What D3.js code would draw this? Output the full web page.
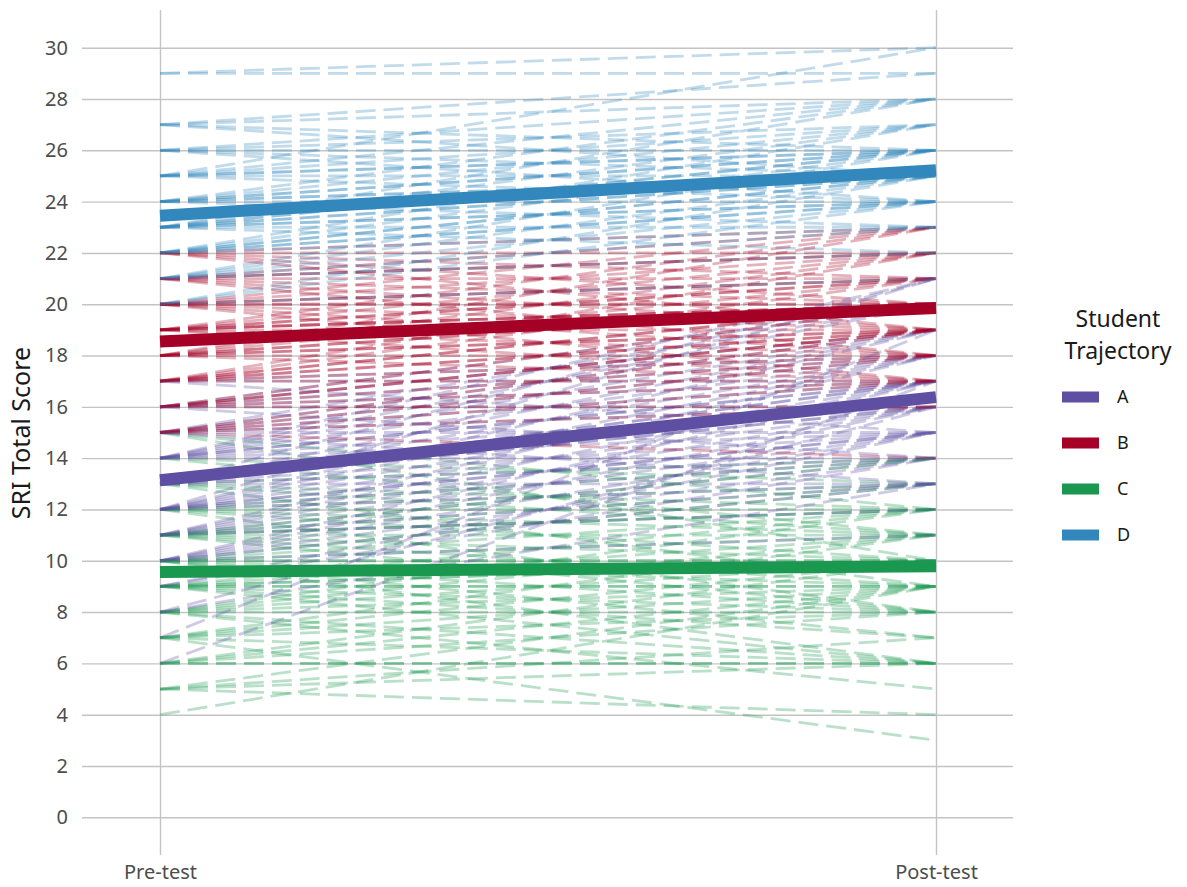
<!DOCTYPE html>
<html>
<head>
<meta charset="utf-8">
<script src="https://cdn.jsdelivr.net/npm/d3@7"></script>
<style>
  html, body { margin: 0; padding: 0; background: #ffffff; }
  svg { display: block; }
  text { font-family: "Noto Sans", "Open Sans", sans-serif; }
</style>
</head>
<body>
<svg id="chart" width="1187" height="887"></svg>
<script>
// ---------------- DATA ----------------
const timepoints = ["Pre-test", "Post-test"];
const groups = ["A", "B", "C", "D"];
const groupColors = ["#5e4fa2", "#a50026", "#1a9850", "#3288bd"];
const yTicks = [0, 2, 4, 6, 8, 10, 12, 14, 16, 18, 20, 22, 24, 26, 28, 30];

// group mean trajectories (pre, post)
const meanPre  = [13.14, 18.55, 9.56, 23.45];
const meanPost = [16.38, 19.85, 9.79, 25.22];

// individual students, group A
const preA  = [17,17, 16,16,16,16,16, 15,15,15,15,15,15, 14,14,14,14,14,14,14,14,
               13,13,13,13,13,13,13,13,13, 12,12,12,12,12,12,12,12, 11,11,11,11,11,11,11,
               10,10,10,10,10,10, 9,9,8,8,7,6, 17,16,15,14,13,12];
const postA = [18,17, 20,19,18,17,16, 20,19,18,17,16,15, 20,19,18,17,17,16,15,14,
               19,18,17,17,16,16,15,14,13, 19,18,17,16,15,15,14,13, 18,17,16,15,14,13,12,
               17,16,15,14,13,11, 15,14,16,13,19,17, 15,14,13,21,21,21];

// group B
const preB  = [22,22,22,22, 21,21,21,21,21,21, 20,20,20,20,20,20,20,20,
               19,19,19,19,19,19,19,19,19, 18,18,18,18,18,18,18,18,
               17,17,17,17,17,17,17, 16,16,16,16,16,16, 15,15,15,15,15,
               22,21,20,19,18,17];
const postB = [23,22,21,20, 23,22,22,21,20,19, 23,22,21,21,20,20,19,18,
               22,21,21,20,20,20,19,18,17, 22,21,20,20,19,19,18,17,
               21,20,20,19,19,18,17, 20,19,19,18,17,16, 19,18,17,16,14,
               19,18,17,23,23,22];

// group C
const preC  = [15,15,14,14, 13,13,13,13, 12,12,12,12,12,12, 11,11,11,11,11,11,11,
               10,10,10,10,10,10,10,10, 9,9,9,9,9,9,9,9, 8,8,8,8,8,8,8,
               7,7,7,7,7,7, 6,6,6,6,6, 5,5,5,5,4, 10,9,11];
const postC = [12,10,13,11, 14,12,11,9, 14,13,12,11,10,8, 13,12,12,11,10,9,8,
               13,12,11,10,10,9,8,6, 12,11,10,10,9,9,8,7, 12,11,10,9,8,6,5,
               11,10,9,8,6,3, 10,9,8,6,6, 9,7,6,4,9, 7,6,14];

// group D
const preD  = [29,29,27,27,27, 26,26,26,26, 25,25,25,25,25,25,
               24,24,24,24,24,24,24,24, 23,23,23,23,23,23,23,23,23,23,
               22,22,22,22,22,22,22, 21,21,21,21,21, 20,20,20, 27,26,25];
const postD = [30,29,28,29,25, 28,27,25,24, 30,28,27,26,25,24,
               28,27,26,26,25,25,24,23, 28,27,26,26,25,25,24,24,23,22,
               27,26,25,25,24,24,23, 26,25,24,23,22, 25,24,21, 26,26,26];

const studentPre  = [preA, preB, preC, preD];
const studentPost = [postA, postB, postC, postD];

// ---------------- CHART ----------------
const svg = d3.select("#chart");

const panelLeft = 82, panelRight = 1013, panelTop = 10, panelBottom = 855;

const y = d3.scaleLinear().domain([0, 30]).range([817.3, 47.7]);
const x = d3.scalePoint().domain(timepoints).range([160, 936]);
const color = d3.scaleOrdinal().domain(groups).range(groupColors);

// horizontal grid + y labels
const yAxis = d3.axisLeft(y)
  .tickValues(yTicks)
  .tickSize(-(panelRight - panelLeft))
  .tickPadding(14)
  .tickFormat(d3.format("d"));
const gy = svg.append("g")
  .attr("transform", `translate(${panelLeft},0)`)
  .call(yAxis);
gy.select(".domain").remove();
gy.selectAll(".tick line").attr("stroke", "#c4c4c4").attr("stroke-width", 1.4);
gy.selectAll(".tick text")
  .attr("fill", "#4d4d4d")
  .style("font-size", "20px")
  .style("font-family", "'Noto Sans', sans-serif");

// vertical grid + x labels
const xAxis = d3.axisBottom(x)
  .tickSize(-(panelBottom - panelTop))
  .tickPadding(10);
const gx = svg.append("g")
  .attr("transform", `translate(0,${panelBottom})`)
  .call(xAxis);
gx.select(".domain").remove();
gx.selectAll(".tick line").attr("stroke", "#c4c4c4").attr("stroke-width", 1.4);
gx.selectAll(".tick text")
  .attr("fill", "#4d4d4d")
  .style("font-size", "20px")
  .style("font-family", "'Noto Sans', sans-serif");

// student lines (interleaved draw order)
const students = [];
const maxN = d3.max(studentPre, a => a.length);
for (let i = 0; i < maxN; i++) {
  groups.forEach((g, gi) => {
    if (i < studentPre[gi].length) {
      students.push({ group: g, pre: studentPre[gi][i], post: studentPost[gi][i] });
    }
  });
}

const line = d3.line().x(d => x(d[0])).y(d => y(d[1]));

svg.append("g")
  .selectAll("path")
  .data(students)
  .join("path")
  .attr("d", d => line([[timepoints[0], d.pre], [timepoints[1], d.post]]))
  .attr("fill", "none")
  .attr("stroke", d => color(d.group))
  .attr("stroke-opacity", 0.3)
  .attr("stroke-width", 2.8)
  .attr("stroke-dasharray", "20,8");

// mean lines
const means = groups.map((g, i) => ({ group: g, pre: meanPre[i], post: meanPost[i] }));
svg.append("g")
  .selectAll("path")
  .data(means)
  .join("path")
  .attr("d", d => line([[timepoints[0], d.pre], [timepoints[1], d.post]]))
  .attr("fill", "none")
  .attr("stroke", d => color(d.group))
  .attr("stroke-width", 12);

// y axis title
svg.append("text")
  .attr("transform", "translate(30,433) rotate(-90)")
  .attr("text-anchor", "middle")
  .attr("fill", "#1a1a1a")
  .style("font-size", "25px")
  .text("SRI Total Score");

// legend
const legend = svg.append("g");
legend.append("text")
  .attr("x", 1118).attr("y", 327)
  .attr("text-anchor", "middle")
  .attr("fill", "#1a1a1a")
  .style("font-size", "23px")
  .text("Student");
legend.append("text")
  .attr("x", 1118).attr("y", 359)
  .attr("text-anchor", "middle")
  .attr("fill", "#1a1a1a")
  .style("font-size", "23px")
  .text("Trajectory");

const legendY = d3.scalePoint().domain(groups).range([397, 535]);
const items = legend.selectAll("g.item")
  .data(groups)
  .join("g")
  .attr("class", "item")
  .attr("transform", g => `translate(0,${legendY(g)})`);
items.append("rect")
  .attr("x", 1062).attr("y", -5.5)
  .attr("width", 37).attr("height", 11)
  .attr("fill", g => color(g));
items.append("text")
  .attr("x", 1117).attr("y", 0)
  .attr("dy", "0.35em")
  .attr("fill", "#1a1a1a")
  .style("font-size", "18px")
  .text(g => g);
</script>
</body>
</html>
